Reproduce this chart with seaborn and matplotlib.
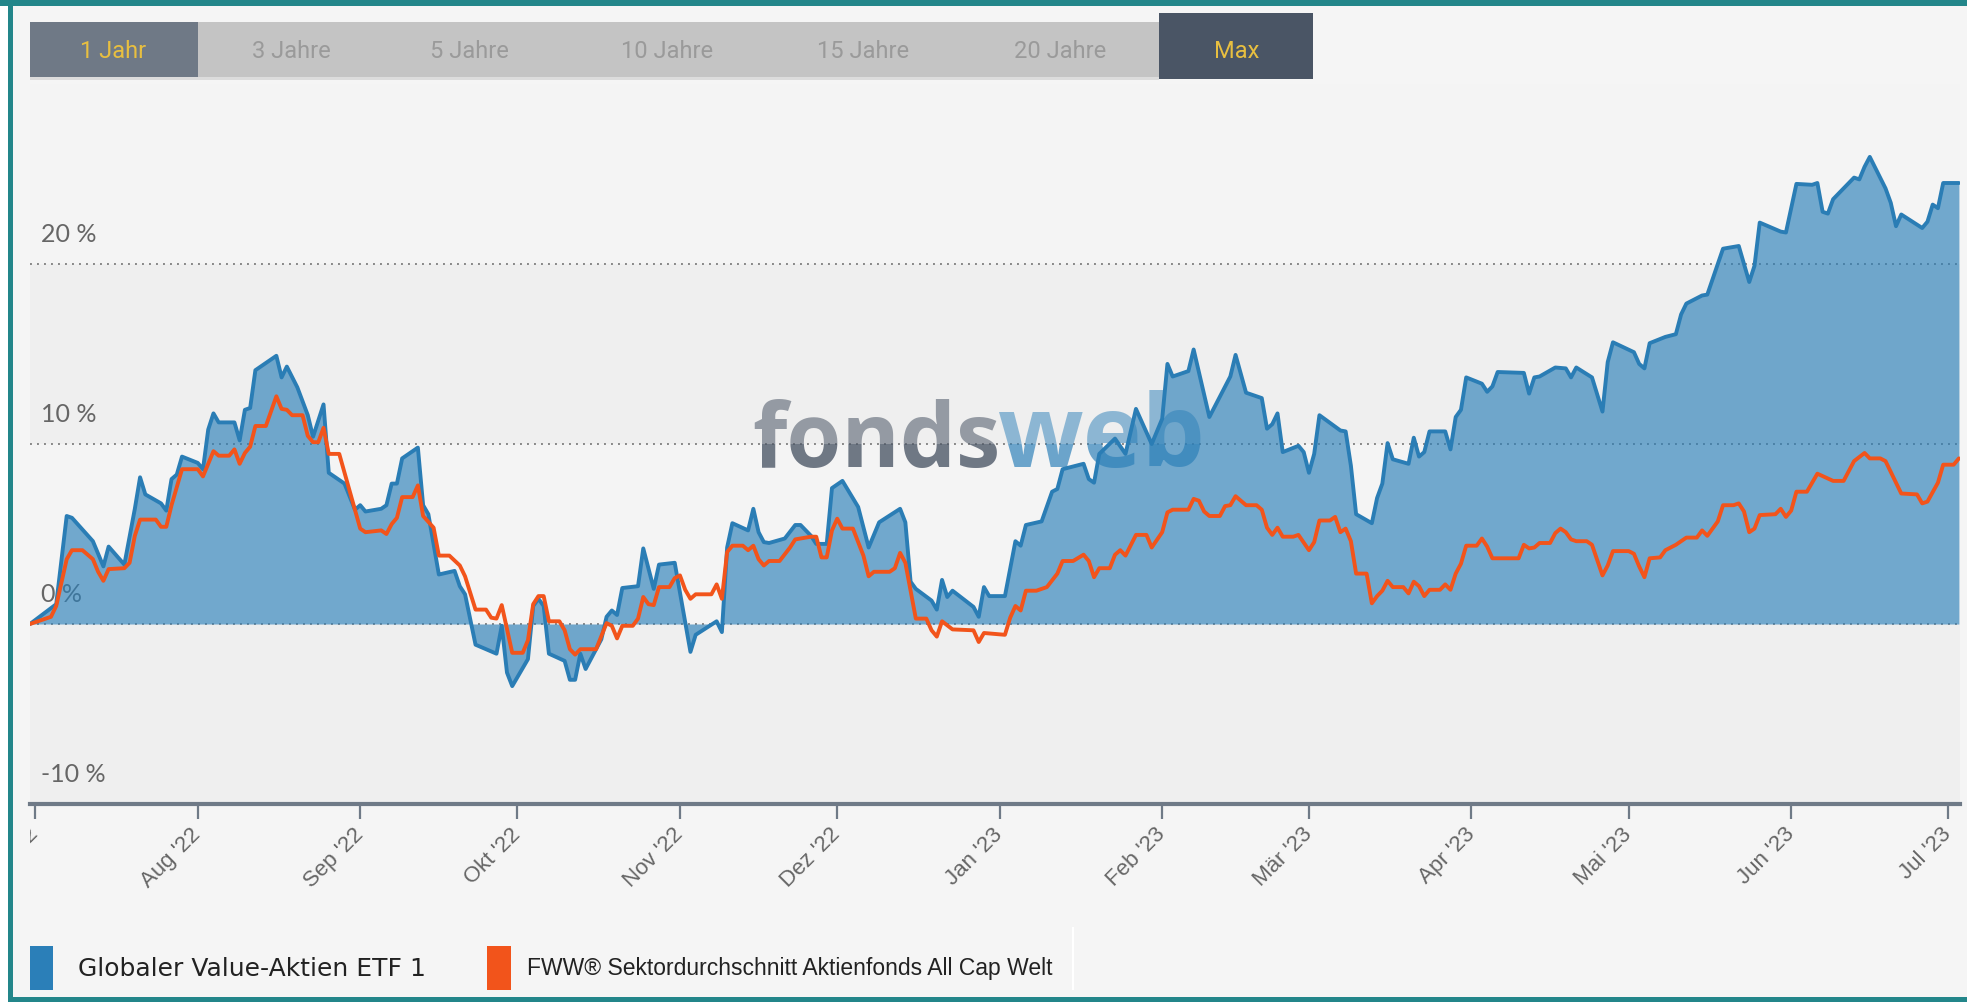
import matplotlib
matplotlib.use("Agg")
import matplotlib.pyplot as plt
from matplotlib.patches import Rectangle
from matplotlib.transforms import Bbox, TransformedBbox
import pandas as pd
import seaborn as sns

# Wertentwicklung in %, Tage ab 01.07.2022
etf_days = [-1, 4, 6, 7, 11, 13, 14, 17, 19, 20, 21, 24, 25, 26, 27, 28, 31, 32, 33, 34, 35, 38, 39, 40, 41, 42,
            46, 47, 48, 50, 52, 53, 55, 56, 59, 61, 62, 63, 66, 67, 68, 69, 70, 73, 74, 75, 77, 80, 81, 82, 84, 88,
            89, 90, 91, 94, 95, 96, 97, 98, 101, 102, 103, 104, 105, 108, 109, 110, 111, 112, 115, 116, 118, 119,
            122, 125, 126, 130, 131, 132, 133, 136, 137, 138, 139, 140, 143, 145, 146, 148, 149, 151, 152, 154,
            157, 159, 161, 165, 166, 167, 168, 171, 172, 173, 174, 175, 179, 180, 181, 182, 185, 187, 188, 189,
            192, 194, 195, 196, 200, 201, 202, 203, 206, 208, 210, 213, 215, 216, 217, 220, 221, 224, 228, 229,
            231, 234, 235, 236, 237, 238, 241, 242, 243, 244, 245, 249, 250, 251, 252, 255, 256, 257, 258, 259,
            262, 263, 264, 265, 266, 269, 270, 271, 272, 273, 276, 277, 278, 279, 284, 285, 286, 287, 290, 292,
            293, 294, 297, 299, 300, 301, 305, 306, 307, 308, 311, 313, 314, 315, 318, 319, 322, 325, 327, 328,
            329, 333, 334, 336, 339, 340, 341, 342, 343, 347, 348, 349, 350, 353, 354, 355, 356, 360, 361, 362,
            363, 364, 367]
etf_pct = [0.0, 1.1, 6.0, 5.9, 4.6, 3.2, 4.3, 3.3, 6.4, 8.15, 7.2, 6.7, 6.3, 8.05, 8.3, 9.3, 8.95, 8.6, 10.8, 11.7,
           11.2, 11.2, 10.2, 11.9, 12.0, 14.1, 14.9, 13.7, 14.3, 13.15, 11.6, 10.4, 12.2, 8.4, 7.8, 6.35, 6.6, 6.25,
           6.4, 6.6, 7.8, 7.8, 9.2, 9.8, 6.6, 6.1, 2.75, 2.95, 2.1, 1.65, -1.15, -1.65, -0.1, -2.7, -3.45, -1.95,
           1.0, 1.4, 1.0, -1.65, -2.05, -3.1, -3.1, -1.65, -2.5, -0.85, 0.4, 0.75, 0.5, 2.0, 2.1, 4.2, 1.95, 3.3,
           3.4, -1.55, -0.6, 0.15, -0.45, 4.25, 5.6, 5.2, 6.4, 5.1, 4.55, 4.5, 4.75, 5.5, 5.5, 4.9, 4.45, 4.45,
           7.55, 7.95, 6.5, 4.25, 5.65, 6.4, 5.65, 2.35, 1.95, 1.3, 0.8, 2.45, 1.5, 1.85, 0.95, 0.4, 2.05, 1.55,
           1.55, 4.6, 4.35, 5.5, 5.7, 7.35, 7.5, 8.6, 8.9, 8.05, 7.85, 9.45, 10.3, 9.45, 11.95, 10.0, 11.4, 14.45,
           13.75, 14.05, 15.25, 11.5, 13.75, 14.95, 12.85, 12.55, 10.85, 11.1, 11.7, 9.55, 9.9, 9.55, 8.4, 9.45,
           11.6, 10.75, 10.7, 8.8, 6.1, 5.6, 7.0, 7.8, 10.05, 9.15, 8.9, 10.35, 9.3, 9.55, 10.7, 10.7, 9.7, 11.5,
           11.9, 13.7, 13.35, 12.9, 13.2, 14.0, 13.95, 12.8, 13.7, 13.75, 14.25, 14.2, 13.7, 14.25, 13.7, 11.8,
           14.55, 15.65, 15.1, 14.45, 14.2, 15.6, 15.95, 16.1, 17.2, 17.8, 18.25, 18.3, 20.85, 21.0, 19.0, 19.9,
           22.3, 21.8, 21.75, 24.45, 24.4, 24.5, 22.9, 22.8, 23.6, 24.8, 24.7, 25.4, 25.95, 24.2, 23.4, 22.1,
           22.75, 22.0, 22.35, 23.3, 23.1, 24.5, 24.5]

avg_days = [-1, 3, 4, 6, 7, 9, 11, 12, 13, 14, 17, 18, 19, 20, 23, 24, 25, 26, 28, 31, 32, 34, 35, 37, 38, 39, 40,
            41, 42, 44, 46, 47, 48, 49, 51, 52, 53, 54, 55, 56, 58, 62, 63, 66, 67, 68, 69, 70, 72, 73, 74, 76, 77,
            79, 81, 82, 84, 86, 87, 88, 89, 91, 93, 94, 95, 96, 97, 98, 100, 101, 102, 103, 104, 107, 109, 110,
            111, 112, 114, 115, 116, 117, 118, 119, 121, 122, 123, 124, 125, 126, 129, 130, 131, 132, 133, 135,
            136, 137, 138, 139, 140, 142, 144, 145, 148, 149, 150, 151, 152, 153, 154, 156, 158, 159, 160, 163,
            164, 165, 166, 168, 170, 171, 172, 173, 175, 179, 180, 181, 185, 186, 187, 188, 189, 191, 193, 195,
            196, 198, 200, 201, 202, 203, 205, 206, 207, 208, 210, 212, 213, 215, 216, 217, 220, 221, 222, 223,
            224, 226, 227, 228, 229, 231, 233, 234, 235, 236, 237, 238, 240, 241, 243, 244, 245, 247, 248, 249,
            250, 251, 252, 254, 255, 256, 257, 258, 259, 261, 262, 263, 264, 265, 266, 268, 269, 270, 271, 272,
            273, 275, 276, 277, 278, 283, 284, 285, 286, 287, 289, 290, 291, 292, 293, 294, 296, 297, 299, 300,
            301, 304, 305, 306, 307, 308, 310, 311, 313, 314, 315, 317, 318, 319, 320, 321, 322, 324, 325, 326,
            327, 328, 329, 332, 333, 334, 335, 336, 338, 340, 343, 345, 347, 349, 350, 352, 353, 356, 359, 360,
            361, 363, 364, 366, 367]
avg_pct = [0.0, 0.4, 1.0, 3.6, 4.1, 4.1, 3.6, 2.9, 2.4, 3.05, 3.1, 3.4, 4.9, 5.8, 5.8, 5.4, 5.4, 6.6, 8.6, 8.6,
           8.2, 9.6, 9.35, 9.35, 9.7, 8.9, 9.5, 9.85, 11.0, 11.0, 12.65, 11.95, 11.9, 11.6, 11.6, 10.45, 10.1,
           10.1, 10.9, 9.45, 9.45, 5.3, 5.1, 5.2, 5.0, 5.55, 5.9, 7.05, 7.05, 7.7, 6.0, 5.35, 3.8, 3.8, 3.25,
           2.65, 0.8, 0.8, 0.35, 0.3, 1.05, -1.6, -1.6, -0.9, 1.1, 1.55, 1.55, 0.15, 0.15, -0.35, -1.4, -1.7,
           -1.4, -1.4, 0.05, -0.1, -0.8, -0.1, -0.1, 0.3, 1.5, 1.1, 1.05, 2.05, 2.05, 2.55, 2.7, 1.9, 1.4, 1.65,
           1.65, 2.2, 1.4, 4.0, 4.35, 4.35, 4.1, 4.35, 3.6, 3.25, 3.5, 3.5, 4.25, 4.7, 4.85, 4.85, 3.7, 3.7,
           5.2, 5.85, 5.3, 5.3, 3.8, 2.65, 2.9, 2.9, 3.1, 3.95, 3.4, 0.3, 0.3, -0.35, -0.7, 0.15, -0.3, -0.35,
           -1.0, -0.5, -0.6, 0.35, 1.0, 0.75, 1.85, 1.85, 2.05, 2.8, 3.5, 3.5, 3.85, 3.5, 2.6, 3.1, 3.1, 3.85,
           4.1, 3.8, 4.95, 4.95, 4.25, 5.1, 6.2, 6.35, 6.35, 6.95, 6.85, 6.25, 6.0, 6.0, 6.55, 6.6, 7.1, 6.6,
           6.6, 6.35, 5.35, 4.95, 5.35, 4.85, 4.85, 4.95, 4.1, 4.55, 5.75, 5.75, 5.95, 5.1, 5.3, 4.6, 2.8, 2.8,
           1.15, 1.55, 1.85, 2.4, 2.05, 2.05, 1.7, 2.35, 2.1, 1.55, 1.9, 1.9, 2.2, 1.9, 2.8, 3.35, 4.35, 4.35,
           4.75, 4.3, 3.65, 3.65, 4.4, 4.2, 4.25, 4.5, 4.5, 5.05, 5.3, 5.1, 4.7, 4.6, 4.6, 4.4, 2.7, 3.25, 4.05,
           4.05, 3.9, 3.2, 2.6, 3.65, 3.7, 4.1, 4.4, 4.6, 4.8, 4.8, 5.2, 4.9, 5.3, 5.7, 6.6, 6.6, 6.7, 6.25, 5.1,
           5.3, 6.05, 6.1, 6.4, 5.95, 6.3, 7.35, 7.35, 8.35, 7.95, 7.95, 9.05, 9.5, 9.2, 9.2, 9.05, 7.25, 7.2,
           6.7, 6.8, 7.85, 8.85, 8.85, 9.2]

month_labels = ["Jul '22", "Aug '22", "Sep '22", "Okt '22", "Nov '22", "Dez '22", "Jan '23",
                "Feb '23", "Mär '23", "Apr '23", "Mai '23", "Jun '23", "Jul '23"]
y_levels = [20, 10, 0, -10]
periods = ["1 Jahr", "3 Jahre", "5 Jahre", "10 Jahre", "15 Jahre", "20 Jahre", "Max"]
etf_name = "Globaler Value-Aktien ETF 1"
avg_name = "FWW® Sektordurchschnitt Aktienfonds All Cap Welt"

start = pd.Timestamp("2022-07-01")
etf = pd.DataFrame({"Datum": start + pd.to_timedelta(etf_days, unit="D"), "Wert": etf_pct})
avg = pd.DataFrame({"Datum": start + pd.to_timedelta(avg_days, unit="D"), "Wert": avg_pct})
month_starts = pd.date_range("2022-07-01", "2023-07-01", freq="MS")

BLUE = "#2a7db5"
ORANGE = "#f2541b"
SLATE = "#6f7a87"

sns.set_style("white")
plt.rcParams["font.family"] = ["Lato", "DejaVu Sans"]

W, H = 1967, 1003
fig = plt.figure(figsize=(W / 100, H / 100), dpi=100, facecolor="#f5f5f5")


def fx(px):
    return px / W


def fy(py):
    return 1 - py / H


def box(x0, y0, x1, y1, color, z=1):
    fig.patches.append(Rectangle((fx(x0), fy(y1)), fx(x1 - x0), (y1 - y0) / H,
                                 transform=fig.transFigure, facecolor=color, edgecolor="none", zorder=z))


ax = fig.add_axes([fx(30), fy(805), fx(1930), 720 / H])
ax.set_facecolor("none")

# Hintergrundbänder
for lo, hi, c in [(20, 30, "#f4f4f4"), (10, 20, "#efefef"), (0, 10, "#f4f4f4"), (-10, 0, "#efefef")]:
    ax.axhspan(lo, hi, color=c, lw=0, zorder=0)

ax.set_ylim(-10, 30)
ax.set_xlim(pd.Timestamp("2022-06-30"), pd.Timestamp("2023-07-03 05:00"))

ax.set_yticks([0, 10, 20])
ax.yaxis.grid(True, color="#888888", lw=1.4, ls=(0, (1, 2.6)))
ax.xaxis.grid(False)
ax.set_axisbelow(True)
ax.tick_params(axis="y", left=False, labelleft=False)

for v in y_levels:
    ax.annotate(f"{v} %", xy=(0, v), xycoords=ax.get_yaxis_transform(), xytext=(8, 22),
                textcoords="offset points", va="center", ha="left", fontsize=18, color="#666666", zorder=1)

ax.fill_between(etf["Datum"], etf["Wert"], 0, color="#2b7fb8", alpha=0.65, lw=0, zorder=2)
sns.lineplot(data=etf, x="Datum", y="Wert", ax=ax, color=BLUE, lw=2.8, estimator=None, sort=False, zorder=5)
sns.lineplot(data=avg, x="Datum", y="Wert", ax=ax, color=ORANGE, lw=2.8, estimator=None, sort=False, zorder=6)
ax.set_xlabel("")
ax.set_ylabel("")

# Wasserzeichen
split = [(Rectangle((0, 10), 1, 30, transform=ax.get_yaxis_transform()), 0.55, 0.5),
         (Rectangle((0, -10), 1, 20, transform=ax.get_yaxis_transform()), 0.78, 0.68)]
for clip, a_fonds, a_web in split:
    t1 = ax.text(fx(1000), fy(467), "fonds", transform=fig.transFigure, ha="right", va="baseline",
                 fontsize=64, fontweight="bold", family="Open Sans", color="#4a5565", alpha=a_fonds, zorder=3)
    t2 = ax.text(fx(998), fy(467), "web", transform=fig.transFigure, ha="left", va="baseline",
                 fontsize=72, fontweight="bold", family="Open Sans", color="#2b7fb8", alpha=a_web, zorder=3)
    for t in (t1, t2):
        t.set_clip_path(clip)
        t.set_clip_on(True)

for s in ["top", "right", "left"]:
    ax.spines[s].set_visible(False)
ax.spines["bottom"].set_color(SLATE)
ax.spines["bottom"].set_linewidth(3)

ax.set_xticks(month_starts)
ax.set_xticklabels(month_labels, rotation=45, ha="right", va="center", rotation_mode="anchor",
                   fontsize=16, color="#666666", family=["Liberation Sans", "DejaVu Sans"])
ax.tick_params(axis="x", length=11, width=1.6, color=SLATE, pad=8, bottom=True)
clip_lbl = TransformedBbox(Bbox([[fx(30), 0], [1, 1]]), fig.transFigure)
for lbl in ax.get_xticklabels():
    lbl.set_clip_box(clip_lbl)
    lbl.set_clip_on(True)

# Zeitraum-Schalter
box(30, 23, 1159, 80, "#c4c4c4")
box(30, 23, 198, 80, "#6f7986", z=2)
box(1159, 14, 1313, 80, "#4a5565", z=2)
box(30, 78, 1159, 81, "#dcdcdc", z=2)
btn_x = [113, 291, 469, 667, 863, 1060, 1237]
for name, bx in zip(periods, btn_x):
    active = name in ("1 Jahr", "Max")
    fig.text(fx(bx), fy(52), name, ha="center", va="center", fontsize=17,
             family=["Roboto", "DejaVu Sans"], color="#e8bf40" if active else "#9a9a9a", zorder=3)

# Rahmen
box(0, 0, W, 7, "#23868a", z=5)
box(8, 0, 13, H, "#23868a", z=5)
box(8, 998, W, 1003, "#23868a", z=5)
box(0, 7, 8, H, "#ffffff", z=4)

# Legende
box(30, 947, 53, 991, "#2b7fb8")
fig.text(fx(78), fy(969), etf_name, ha="left", va="center", fontsize=18, color="#222222",
         family=["DejaVu Sans"])
box(487, 947, 511, 991, ORANGE)
fig.text(fx(527), fy(969), avg_name, ha="left", va="center", fontsize=16.5,
         color="#222222", family=["Liberation Sans Narrow", "Liberation Sans", "DejaVu Sans"])
box(1072, 928, 1074, 991, "#ffffff")

fig.savefig("out.png", dpi=100, facecolor=fig.get_facecolor())
